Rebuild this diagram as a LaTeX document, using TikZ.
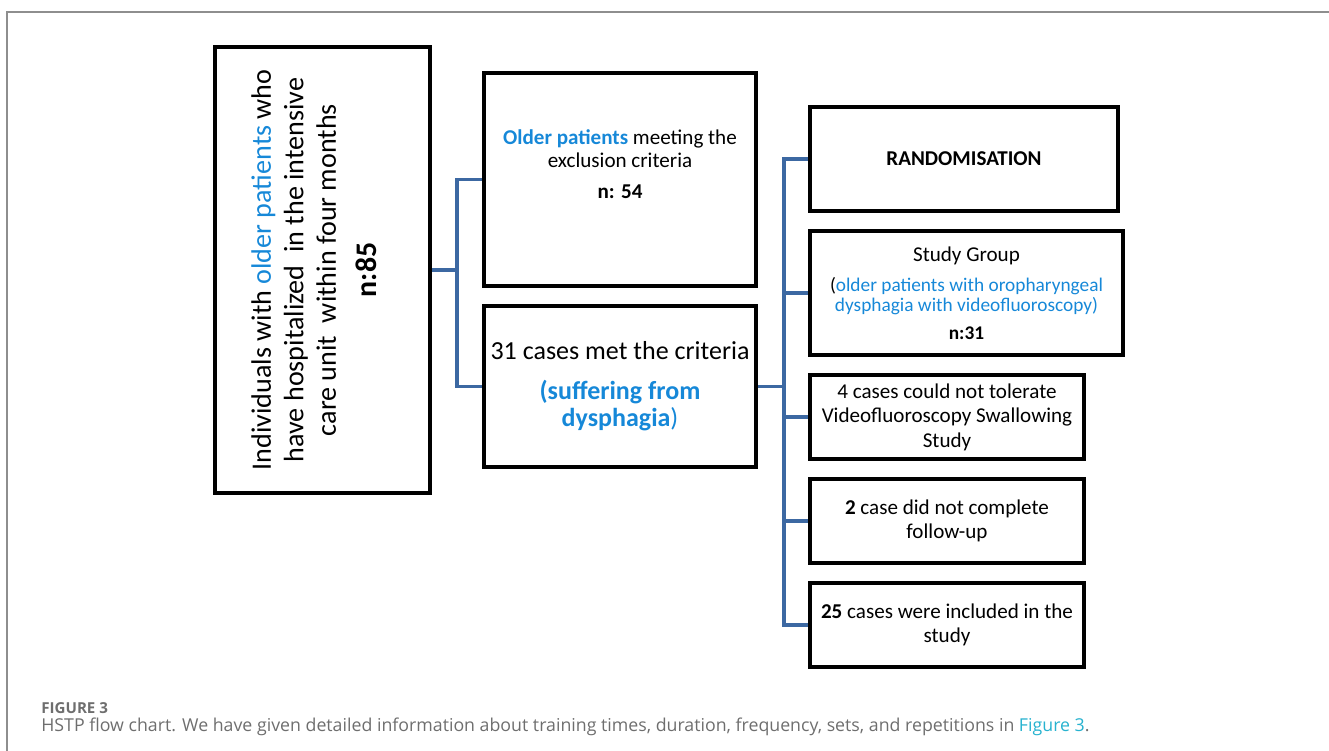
\documentclass[tikz,border=0pt]{standalone}
\usepackage{fontspec}
\setmainfont{Carlito}
\newfontfamily\capfont{Open Sans}
\usepackage{tikz}
\definecolor{hiblue}{HTML}{1688D8}
\definecolor{linkblue}{HTML}{3C68A2}
\definecolor{framegray}{HTML}{8E8E8E}
\definecolor{capgray}{HTML}{6E6E6E}
\definecolor{capcyan}{HTML}{27B2CF}
\newcommand{\bluetext}[1]{{\color{hiblue}#1}}
\tikzstyle{box}=[draw=black, line width=2.4pt, align=center, inner sep=0pt]
\tikzstyle{link}=[draw=linkblue, line width=2.2pt]
\tikzstyle{small}=[font=\fontsize{12}{14}\selectfont]

\begin{document}
\begin{tikzpicture}
				\useasboundingbox (0,0) rectangle (26.58,-15.02);
				\draw[framegray, line width=0.9pt] (0.14,-15.1) -- (0.14,-0.24) -- (26.7,-0.24);
				% left column
				\node[box, minimum width=4.3cm, minimum height=8.92cm] (pop) at (6.45,-5.4) {};
				\node[rotate=90, align=center, font=\fontsize{16}{18.5}\selectfont] (poptext) at (6.28,-5.4) {Individuals with \bluetext{older patients} who\\ have hospitalized\ \ in the intensive\\ care unit\ \ within four months\\[4.5pt] {\fontsize{17}{18.5}\selectfont\textbf{n:85}}};
				% middle column
				\node[box, minimum width=5.44cm, minimum height=4.26cm] (excl) at (12.4,-3.59) {};
				\node[align=center, font=\fontsize{12}{13.1}\selectfont] (excltext) at (12.4,-3.28) {\textbf{\bluetext{Older patients}} meeting the\\ exclusion criteria\\[4.5pt] \textbf{n: 54}};
				\node[box, minimum width=5.44cm, minimum height=3.22cm, font=\fontsize{14.8}{15.6}\selectfont] (incl) at (12.4,-7.73) {31 cases met the criteria\\[7pt] \bluetext{\textbf{(suffering from}}\\ \bluetext{\textbf{dysphagia})}};
				% right column
				\node[box, small, minimum width=6.16cm, minimum height=2.08cm] (rand) at (19.28,-3.18) {\textbf{RANDOMISATION}};
				\node[box, minimum width=6.26cm, minimum height=2.48cm, font=\fontsize{11}{11.5}\selectfont] (study) at (19.33,-5.86) {{\fontsize{12}{11.5}\selectfont Study Group}\\[5.5pt] (\bluetext{older patients with oropharyngeal}\\ \bluetext{dysphagia with videofluoroscopy)}\\[4.5pt] \textbf{n:31}};
				\node[box, small, minimum width=5.48cm, minimum height=1.68cm] (nottol) at (18.94,-8.34) {4 cases could not tolerate\\ Videofluoroscopy Swallowing\\ Study};
				\node[box, small, minimum width=5.48cm, minimum height=1.68cm] (lost) at (18.94,-10.42) {\textbf{2} case did not complete\\ follow-up};
				\node[box, small, minimum width=5.48cm, minimum height=1.68cm] (final) at (18.94,-12.5) {\textbf{25} cases were included in the\\ study};
				% connectors
				\coordinate (split1) at (9.14,-5.4);
				\coordinate (split2) at (15.68,-7.73);
				\draw[link] (pop.east) -- (split1);
				\draw[link] (excl.west) -| (split1) |- (incl.west);
				\draw[link] (incl.east) -- (split2);
				\draw[link] (rand.west) -| (split2) |- (final.west);
				\draw[link] (study.west) -- (split2 |- study.west);
				\draw[link] (nottol.west) -- (split2 |- nottol.west);
				\draw[link] (lost.west) -- (split2 |- lost.west);
				% caption
				\node[anchor=west, inner sep=0pt, text=capgray, font=\capfont\bfseries\fontsize{8.6}{9}\selectfont] (figlabel) at (0.82,-14.16) {FIGURE 3};
				\node[anchor=west, inner sep=0pt, text=capgray, font=\capfont\fontsize{10.1}{11}\selectfont] (caption) at (0.82,-14.54) {HSTP flow chart. We have given detailed information about training times, duration, frequency, sets, and repetitions in \textcolor{capcyan}{Figure 3}.};
			\end{tikzpicture}
\end{document}
